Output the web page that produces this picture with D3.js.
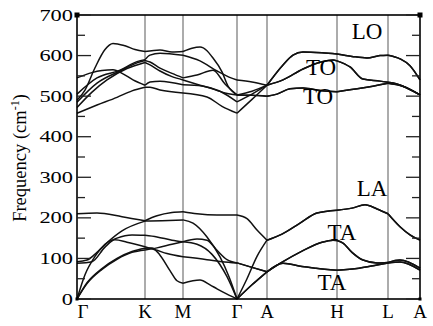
<!DOCTYPE html>
<html>
<head>
<meta charset="utf-8">
<script src="https://cdn.jsdelivr.net/npm/d3@7"></script>
<style>
  body { margin: 0; background: #fff; }
  text { font-family: "Liberation Serif", "Times New Roman", serif; fill: #000; }
</style>
</head>
<body>
<div id="chart"></div>
<script>
// high-symmetry points along the k-path (path distance units)
const kPoints = [0, 68, 106, 160, 190, 260, 311, 343];
const kLabels = ["Γ", "K", "M", "Γ", "A", "H", "L", "A"];
const yTicks = [0, 100, 200, 300, 400, 500, 600, 700];
const yMinorTicks = [50, 150, 250, 350, 450, 550, 650];

// shared A-H-L-A parts (doubly degenerate bands)
const loTail = [[206, 577], [216, 601], [226, 609], [245, 607], [260, 604], [275, 598], [290, 594], [303, 600], [311, 601], [323, 592], [333, 575], [343, 540]];
const toUpperTail = [[206, 540], [226, 567], [245, 585], [256, 589], [260, 587], [273, 572], [286, 542], [303, 537], [311, 534], [320, 530], [343, 503]];
const toLowerTail = [[200, 505], [213, 518], [226, 520], [245, 513], [260, 511], [285, 520], [311, 532], [325, 525], [343, 503]];
const laTail = [[205, 160], [223, 187], [240, 212], [260, 219], [275, 224], [288, 232], [300, 222], [311, 210], [323, 178], [333, 158], [343, 145]];
const taUpperTail = [[206, 92], [225, 118], [245, 140], [256, 145], [260, 144], [266, 138], [275, 115], [286, 96], [300, 89], [311, 90], [323, 96], [343, 76]];
const taLowerTail = [[206, 88], [225, 80], [239, 76], [260, 71], [282, 76], [300, 84], [311, 89], [323, 91], [343, 71]];

// optical branches, 450-630 cm-1
const branchUA = [[0, 490], [8, 515], [18, 570], [28, 615], [36, 630], [48, 624], [58, 615], [68, 610], [83, 614], [95, 609], [106, 610], [115, 618], [123, 621], [130, 612], [135, 597], [145, 560], [151, 525], [160, 503], [175, 502], [190, 500]].concat(toLowerTail);
const branchUB = [[0, 505], [20, 545], [43, 564], [60, 585], [68, 590], [73, 601], [83, 606], [106, 601], [123, 587], [140, 562], [152, 547], [160, 540], [175, 535], [190, 527]].concat(toUpperTail);
const branchUC = [[0, 485], [20, 532], [43, 562], [60, 582], [68, 588], [73, 584], [83, 569], [95, 556], [106, 545], [120, 552], [136, 564], [148, 530], [160, 503], [175, 502], [190, 500]].concat(toLowerTail);
const branchUD = [[0, 472], [15, 510], [30, 540], [50, 568], [68, 583], [73, 577], [83, 562], [95, 548], [106, 540], [123, 527], [143, 512], [160, 486], [175, 505], [190, 527]].concat(toUpperTail);
const branchUE = [[0, 545], [15, 558], [25, 563], [36, 565], [46, 555], [56, 540], [68, 527], [73, 535], [83, 537], [106, 528], [125, 525], [148, 508], [160, 503], [175, 512], [190, 527]].concat(loTail);
const branchUF = [[0, 458], [20, 478], [40, 497], [55, 513], [68, 522], [73, 522], [83, 515], [106, 508], [130, 498], [145, 475], [160, 458], [175, 492], [190, 527]].concat(loTail);

// acoustic and low optical branches, 0-230 cm-1
const branchL1 = [[0, 210], [20, 212], [45, 203], [68, 193], [80, 205], [95, 213], [106, 215], [120, 210], [140, 207], [160, 207], [170, 198], [180, 170], [190, 145]].concat(laTail);
const branchL2 = [[0, 92], [10, 96], [20, 115], [31, 141], [45, 168], [68, 192], [85, 193], [106, 195], [116, 187], [130, 153], [143, 104], [152, 55], [160, 0], [170, 50], [180, 105], [190, 145]].concat(laTail);
const branchL3 = [[0, 0], [8, 60], [18, 105], [28, 135], [40, 150], [55, 158], [68, 157], [80, 153], [95, 145], [106, 141], [120, 148], [130, 145], [140, 120], [150, 97], [160, 89], [175, 78], [190, 67]].concat(taUpperTail);
const branchL4 = [[0, 88], [15, 92], [28, 128], [38, 146], [50, 140], [68, 129], [80, 120], [90, 112], [106, 104], [130, 97], [145, 92], [160, 89], [175, 78], [190, 67]].concat(taLowerTail);
const branchL5 = [[0, 0], [10, 40], [25, 75], [40, 100], [55, 117], [68, 125], [75, 126], [83, 108], [93, 70], [100, 45], [106, 39], [123, 47], [133, 35], [140, 25], [150, 12], [160, 0], [175, 35], [190, 67]].concat(taUpperTail);
const branchL6 = [[0, 0], [10, 38], [25, 73], [40, 98], [55, 115], [68, 121], [80, 126], [95, 135], [106, 141], [120, 135], [135, 110], [150, 55], [160, 0], [175, 35], [190, 67]].concat(taLowerTail);

const branches = [branchUA, branchUB, branchUC, branchUD, branchUE, branchUF,
                  branchL1, branchL2, branchL3, branchL4, branchL5, branchL6];

// mode labels, placed in data coordinates
const modeNames = ["LO", "TO", "TO", "LA", "TA", "TA"];
const modeK = [290, 244, 241, 295, 265, 255];
const modeFreq = [641, 552, 481, 254, 145, 22];

const width = 433, height = 326;
const margin = { top: 15, right: 13, bottom: 27, left: 77 };

const svg = d3.select("#chart").append("svg")
    .attr("width", width)
    .attr("height", height);

const x = d3.scaleLinear()
    .domain([0, 343])
    .range([margin.left, width - margin.right]);
const y = d3.scaleLinear()
    .domain([0, 700])
    .range([height - margin.bottom, margin.top]);

// vertical lines at high-symmetry points
svg.append("g").selectAll("line")
    .data(kPoints.slice(1, -1))
    .enter().append("line")
    .attr("x1", d => x(d)).attr("x2", d => x(d))
    .attr("y1", y(0)).attr("y2", y(700))
    .attr("stroke", "#a3a3a3")
    .attr("stroke-width", 1.8);

// branches, drawn segment by segment so kinks stay sharp at symmetry points
const line = d3.line()
    .x(d => x(d[0]))
    .y(d => y(d[1]))
    .curve(d3.curveMonotoneX);

const segments = [];
branches.forEach(b => {
    for (let i = 0; i < kPoints.length - 1; i++) {
        const seg = b.filter(p => p[0] >= kPoints[i] && p[0] <= kPoints[i + 1]);
        if (seg.length > 1) segments.push(seg);
    }
});

svg.append("g").selectAll("path")
    .data(segments)
    .enter().append("path")
    .attr("d", line)
    .attr("fill", "none")
    .attr("stroke", "#111")
    .attr("stroke-width", 1.5);

// frame
const x0 = x(0), x1 = x(343), y0 = y(0), y1 = y(700);
svg.append("rect")
    .attr("x", x0).attr("y", y1)
    .attr("width", x1 - x0).attr("height", y0 - y1)
    .attr("fill", "none")
    .attr("stroke", "#000")
    .attr("stroke-width", 1.6);

// inward ticks, left and right
const tickG = svg.append("g").attr("stroke", "#222").attr("stroke-width", 1.3);
yTicks.forEach(t => {
    tickG.append("line").attr("x1", x0).attr("x2", x0 + 14).attr("y1", y(t)).attr("y2", y(t));
    tickG.append("line").attr("x1", x1).attr("x2", x1 - 14).attr("y1", y(t)).attr("y2", y(t));
});
yMinorTicks.forEach(t => {
    tickG.append("line").attr("x1", x0).attr("x2", x0 + 8).attr("y1", y(t)).attr("y2", y(t));
    tickG.append("line").attr("x1", x1).attr("x2", x1 - 8).attr("y1", y(t)).attr("y2", y(t));
});

// small corner squares
[[x0, y1, 5], [x1, y1, 5], [x0, y0, 3], [x1, y0, 3]].forEach(c => {
    svg.append("rect")
        .attr("x", c[0] - c[2] / 2).attr("y", c[1] - c[2] / 2)
        .attr("width", c[2]).attr("height", c[2])
        .attr("fill", "#000");
});

// y tick labels (wide serif digits)
svg.append("g").selectAll("text")
    .data(yTicks)
    .enter().append("text")
    .attr("x", x0 - 4)
    .attr("y", d => y(d) + 5.5)
    .attr("text-anchor", "end")
    .attr("font-size", 16)
    .text(d => d)
    .each(function () {
        const w = this.getComputedTextLength();
        d3.select(this).attr("textLength", w * 1.4).attr("lengthAdjust", "spacingAndGlyphs");
    });

// k-point labels
svg.append("g").selectAll("text")
    .data(kPoints)
    .enter().append("text")
    .attr("x", (d, i) => x(d) + (i === 0 ? 6 : 0))
    .attr("y", 318)
    .attr("text-anchor", "middle")
    .attr("font-size", 19)
    .text((d, i) => kLabels[i]);

// y axis title
const yTitle = svg.append("text")
    .attr("transform", "translate(26,158) rotate(-90)")
    .attr("text-anchor", "middle")
    .attr("font-size", 18.5);
yTitle.append("tspan").text("Frequency (cm");
yTitle.append("tspan").attr("font-size", 12).attr("dy", -7).text("-1");
yTitle.append("tspan").attr("dy", 7).text(")");

// mode labels
svg.append("g").selectAll("text")
    .data(modeNames)
    .enter().append("text")
    .attr("x", (d, i) => x(modeK[i]))
    .attr("y", (d, i) => y(modeFreq[i]))
    .attr("text-anchor", "middle")
    .attr("font-size", 23)
    .text(d => d);
</script>
</body>
</html>
